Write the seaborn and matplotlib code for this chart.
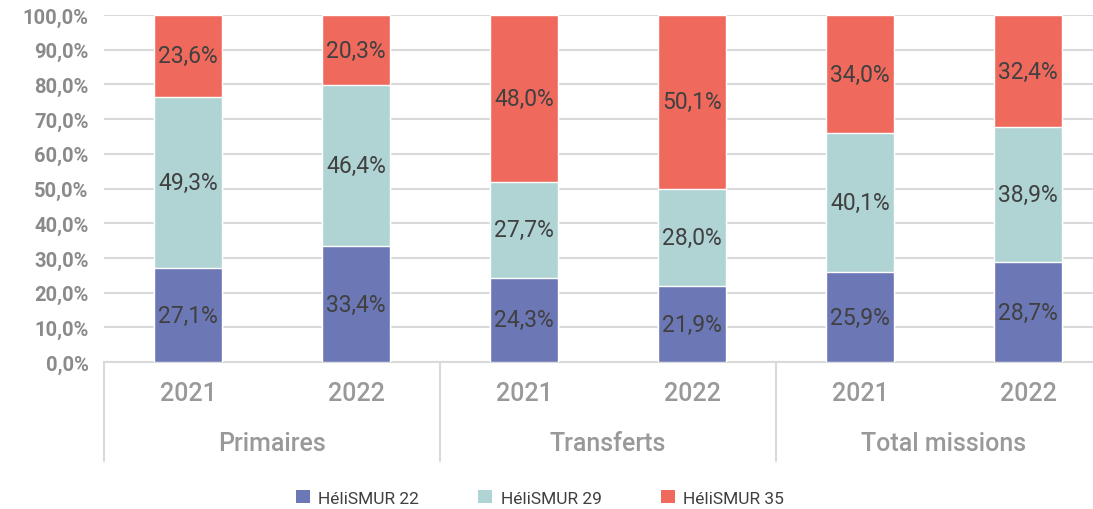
import pandas as pd
import matplotlib.pyplot as plt
import matplotlib.transforms as mtransforms
from matplotlib.patches import Patch
import seaborn as sns

# Data
groups = ["Primaires", "Transferts", "Total missions"]
years = ["2021", "2022"]
heli22 = [27.1, 33.4, 24.3, 21.9, 25.9, 28.7]
heli29 = [49.3, 46.4, 27.7, 28.0, 40.1, 38.9]
heli35 = [23.6, 20.3, 48.0, 50.1, 34.0, 32.4]
series_names = ["HéliSMUR 22", "HéliSMUR 29", "HéliSMUR 35"]
colors = ["#6c77b6", "#b0d3d4", "#ef6a5d"]

sns.set_theme(style="white")
plt.rcParams['font.family'] = ['Roboto', 'DejaVu Sans']

# One row per bar, with cumulative heights for stacking
keys = [f"{g} {y}" for g in groups for y in years]
df = pd.DataFrame({"key": keys, "h22": heli22, "h29": heli29, "h35": heli35})
df["top22"] = df["h22"]
df["top29"] = df["h22"] + df["h29"]
df["top35"] = df["top29"] + df["h35"]

fig = plt.figure(figsize=(10.93, 5.10), dpi=100)
ax = fig.add_axes([104 / 1093, 147 / 510, 1008 / 1093, 347 / 510])

# Draw from the top down so lower segments cover upper ones
for col, c in zip(["top35", "top29", "top22"], colors[::-1]):
    sns.barplot(data=df, x="key", y=col, order=keys, color=c, width=0.4,
                saturation=1, ax=ax, zorder=3)

# Segment labels
for i, row in df.iterrows():
    bottoms = [0, row["h22"], row["h22"] + row["h29"]]
    for b, v in zip(bottoms, [row["h22"], row["h29"], row["h35"]]):
        mid = min(b + v / 2, b + (100 - b) / 2)
        ax.text(i, mid, f"{v:.1f}%".replace(".", ","), ha="center", va="center",
                fontsize=16.5, color="#404040", zorder=4)

ax.set_ylim(0, 100)
ax.set_xlim(-0.5, 5.5)
ax.set_yticks(range(0, 101, 10))
ax.set_yticklabels([f"{t},0%" for t in range(0, 101, 10)], fontsize=14.5,
                   fontweight="bold", color="#8a8a8a")
ax.set_xticks(range(6))
ax.set_xticklabels(years * 3, fontsize=18, color="#999999", fontweight="medium")
ax.tick_params(axis="x", length=0, pad=14)
ax.tick_params(axis="y", length=0, pad=11)
ax.set_xlabel("")
ax.set_ylabel("")
ax.yaxis.grid(True, color="#d9d9d9", linewidth=1.5, zorder=0)
ax.set_axisbelow(True)
for s in ["top", "right", "left"]:
    ax.spines[s].set_visible(False)
ax.spines["bottom"].set_color("#d9d9d9")
ax.spines["bottom"].set_linewidth(1.5)

# Group separators and group labels under the axis
trans = mtransforms.blended_transform_factory(ax.transData, ax.transAxes)
for x in [-0.5, 1.5, 3.5, 5.5]:
    ax.plot([x, x], [0, -0.285], transform=trans, color="#d9d9d9",
            linewidth=1.5, clip_on=False)
for k, g in enumerate(groups):
    ax.text(2 * k + 0.5, -0.234, g, transform=trans, ha="center", va="center",
            fontsize=18, color="#999999", fontweight="medium")

handles = [Patch(facecolor=c, edgecolor="none") for c in colors]
fig.legend(handles, series_names, loc="center", bbox_to_anchor=(0.494, 0.022),
           ncol=3, frameon=False, fontsize=12.5, handlelength=0.8, handleheight=0.8,
           columnspacing=3.4, handletextpad=0.5, labelcolor="#404040")

fig.savefig("out.png", dpi=100)
